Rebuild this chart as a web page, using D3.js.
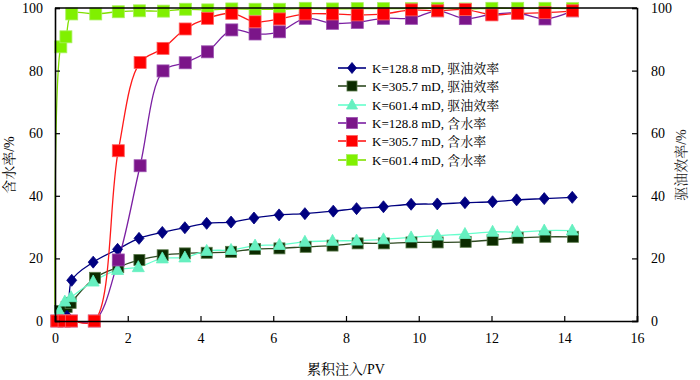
<!DOCTYPE html>
<html><head><meta charset="utf-8">
<script src="https://cdn.jsdelivr.net/npm/d3@7"></script>
<style>body{margin:0;background:#fff}svg{display:block}</style>
</head><body><svg id="c" width="700" height="380"></svg>
<script>
// ---- data ----
const xTicks = [0, 2, 4, 6, 8, 10, 12, 14, 16];
const yTicks = [0, 20, 40, 60, 80, 100];
const xLabel = "累积注入/PV";
const yLeftLabel = "含水率/%";
const yRightLabel = "驱油效率/%";

const rec128X = [0.05, 0.33, 0.46, 1.05, 1.72, 2.31, 2.95, 3.57, 4.17, 4.84, 5.47, 6.16, 6.87, 7.65, 8.29, 9.03, 9.79, 10.51, 11.27, 12.03, 12.69, 13.45, 14.22];
const rec128Y = [0.5, 1.5, 13.0, 18.8, 22.9, 26.4, 28.3, 29.8, 31.2, 31.6, 32.9, 33.9, 34.3, 35.1, 35.9, 36.5, 37.3, 37.4, 37.8, 38.1, 38.7, 39.1, 39.5];

const rec305X = [0.14, 0.32, 0.43, 1.10, 1.74, 2.32, 2.96, 3.57, 4.17, 4.84, 5.50, 6.17, 6.89, 7.63, 8.32, 9.04, 9.80, 10.52, 11.29, 12.03, 12.72, 13.48, 14.24];
const rec305Y = [3.2, 4.5, 5.8, 13.8, 17.2, 19.5, 21.0, 21.6, 21.8, 22.1, 23.0, 23.2, 23.7, 24.1, 24.8, 24.8, 25.1, 25.1, 25.3, 25.9, 26.6, 26.9, 26.9];

const rec601X = [0.12, 0.27, 0.44, 1.05, 1.72, 2.29, 2.95, 3.57, 4.17, 4.84, 5.50, 6.17, 6.87, 7.63, 8.29, 9.03, 9.79, 10.51, 11.27, 12.03, 12.71, 13.45, 14.22];
const rec601Y = [3.0, 6.2, 7.6, 12.6, 16.3, 17.2, 20.0, 20.3, 22.4, 22.7, 24.1, 24.3, 25.3, 25.6, 25.7, 26.1, 26.7, 27.3, 27.8, 28.5, 28.4, 28.9, 28.9];

const wcX = [0.05, 0.25, 0.45, 1.08, 1.74, 2.34, 2.97, 3.58, 4.19, 4.86, 5.50, 6.17, 6.88, 7.63, 8.31, 9.03, 9.80, 10.52, 11.28, 12.01, 12.72, 13.47, 14.23];
const wc128Y = [0, 0, 0, 0, 19.5, 49.6, 79.9, 82.5, 86.0, 93.0, 91.7, 92.4, 96.7, 95.1, 95.4, 96.7, 96.7, 99.1, 96.6, 98.0, 98.4, 96.5, 99.1];
const wc305Y = [0, 0, 0, 0, 54.4, 82.6, 87.1, 93.3, 96.7, 98.3, 95.6, 96.5, 98.1, 98.1, 97.8, 98.1, 99.4, 99.1, 99.5, 97.8, 98.3, 98.5, 99.1];

const wc601X = [0.0, 0.16, 0.30, 0.46, 1.12, 1.74, 2.32, 2.98, 3.59, 4.20, 4.86, 5.50, 6.17, 6.88, 7.63, 8.31, 9.03, 9.80, 10.52, 11.28, 12.01, 12.72, 13.47, 14.23];
const wc601Y = [0, 87.6, 90.8, 98.1, 98.1, 98.8, 99.1, 99.0, 99.6, 99.4, 99.7, 99.6, 99.6, 99.9, 99.7, 99.8, 99.8, 99.8, 99.9, 99.7, 99.9, 99.9, 99.9, 99.8];

const seriesNames = ["K=128.8 mD, 驱油效率", "K=305.7 mD, 驱油效率", "K=601.4 mD, 驱油效率",
                     "K=128.8 mD, 含水率", "K=305.7 mD, 含水率", "K=601.4 mD, 含水率"];

// ---- chart ----
const svg = d3.select("#c");
const L = 55, R = 637, T = 8, B = 321;
const x = d3.scaleLinear().domain([0, 16]).range([L, R]);
const yL = d3.scaleLinear().domain([0, 100]).range([B, T]);
const yR = d3.scaleLinear().domain([0, 100]).range([B, T]);

const numFont = "'Liberation Serif','Times New Roman',serif";
const cjkFont = "'Liberation Serif','Noto Serif CJK SC','Noto Sans CJK SC',serif";

const zip = (xs, ys) => xs.map((v, i) => [v, ys[i]]);
const series = [
  {name: seriesNames[0], pts: zip(rec128X, rec128Y), y: yR, line: "#000080", fill: "#000080", stroke: "#000080", shape: "diamond", size: 10},
  {name: seriesNames[1], pts: zip(rec305X, rec305Y), y: yR, line: "#2f4a22", fill: "#0b2b00", stroke: "#5a7a4a", shape: "square", size: 11},
  {name: seriesNames[2], pts: zip(rec601X, rec601Y), y: yR, line: "#66ffcc", fill: "#66f0c0", stroke: "#66f0c0", shape: "triangle", size: 11},
  {name: seriesNames[3], pts: zip(wcX, wc128Y), y: yL, line: "#7b1fa2", fill: "#7b1589", stroke: "#9b4fb0", shape: "square", size: 12},
  {name: seriesNames[4], pts: zip(wcX, wc305Y), y: yL, line: "#ff1a1a", fill: "#ff0000", stroke: "#ff6060", shape: "square", size: 12},
  {name: seriesNames[5], pts: zip(wc601X, wc601Y), y: yL, line: "#80e000", fill: "#80f000", stroke: "#a8f060", shape: "square", size: 12, skipFirst: true}
];

function marker(g, shape, size, fill, stroke) {
  const h = size / 2;
  if (shape === "square") {
    g.append("rect").attr("x", -h).attr("y", -h).attr("width", size).attr("height", size)
      .attr("fill", fill).attr("stroke", stroke).attr("stroke-width", 0.8);
  } else if (shape === "diamond") {
    g.append("path").attr("d", `M0,${-h-1}L${h},0L0,${h+1}L${-h},0Z`).attr("fill", fill).attr("stroke", stroke).attr("stroke-width", 0.8);
  } else {
    g.append("path").attr("d", `M0,${-h-1}L${h+0.5},${h-1}L${-h-0.5},${h-1}Z`).attr("fill", fill).attr("stroke", stroke).attr("stroke-width", 0.8);
  }
}

const plot = svg.append("g");
[0, 1, 2, 3, 5, 4].forEach(i => {
  const s = series[i];
  const line = d3.line().x(d => x(d[0])).y(d => s.y(d[1])).curve(d3.curveCatmullRom.alpha(0.5));
  plot.append("path").attr("d", line(s.pts)).attr("fill", "none").attr("stroke", s.line).attr("stroke-width", 1.3);
});
[1, 0, 2, 3, 5, 4].forEach(i => {
  const s = series[i];
  s.pts.forEach((p, k) => {
    if (s.skipFirst && k === 0) return;
    const g = plot.append("g").attr("transform", `translate(${x(p[0])},${s.y(p[1])})`);
    marker(g, s.shape, s.size, s.fill, s.stroke);
  });
});

// axes
const axB = svg.append("g").attr("transform", `translate(0,${B})`)
  .call(d3.axisBottom(x).tickValues(xTicks).tickSize(-5).tickPadding(12));
const axL = svg.append("g").attr("transform", `translate(${L},0)`)
  .call(d3.axisLeft(yL).tickValues(yTicks).tickSize(-5).tickPadding(12));
const axR = svg.append("g").attr("transform", `translate(${R},0)`)
  .call(d3.axisRight(yR).tickValues(yTicks).tickSize(-5).tickPadding(14));
svg.append("line").attr("x1", L).attr("x2", R).attr("y1", T).attr("y2", T).attr("stroke", "#000").attr("stroke-width", 1.6);
[axB, axL, axR].forEach(a => {
  a.select(".domain").attr("stroke", "#000").attr("stroke-width", 1.6);
  a.selectAll(".tick line").attr("stroke", "#000").attr("stroke-width", 1.2);
  a.selectAll(".tick text").attr("font-family", numFont).attr("font-size", 14).attr("fill", "#000");
});
axB.selectAll(".tick text").attr("dy", "0.71em");

// labels
svg.append("text").attr("x", 346).attr("y", 374).attr("text-anchor", "middle")
  .attr("font-family", cjkFont).attr("font-size", 14).text(xLabel);
svg.append("text").attr("transform", `translate(14,165) rotate(-90)`).attr("text-anchor", "middle")
  .attr("font-family", cjkFont).attr("font-size", 14).text(yLeftLabel);
svg.append("text").attr("transform", `translate(686,165) rotate(-90)`).attr("text-anchor", "middle")
  .attr("font-family", cjkFont).attr("font-size", 14).attr("fill", "#222").text(yRightLabel);

// legend
const legRowsY = [68, 86, 105, 123, 141, 160];
series.forEach((s, r) => {
  const g = svg.append("g").attr("transform", `translate(338,${legRowsY[r]})`);
  g.append("line").attr("x1", 0).attr("x2", 28).attr("stroke", s.line).attr("stroke-width", 1.6);
  const m = g.append("g").attr("transform", "translate(14,0)");
  marker(m, s.shape, s.size - 1, s.fill, s.stroke);
  g.append("text").attr("x", 34).attr("y", 5).attr("font-family", cjkFont).attr("font-size", 13).text(s.name);
});
</script></body></html>
